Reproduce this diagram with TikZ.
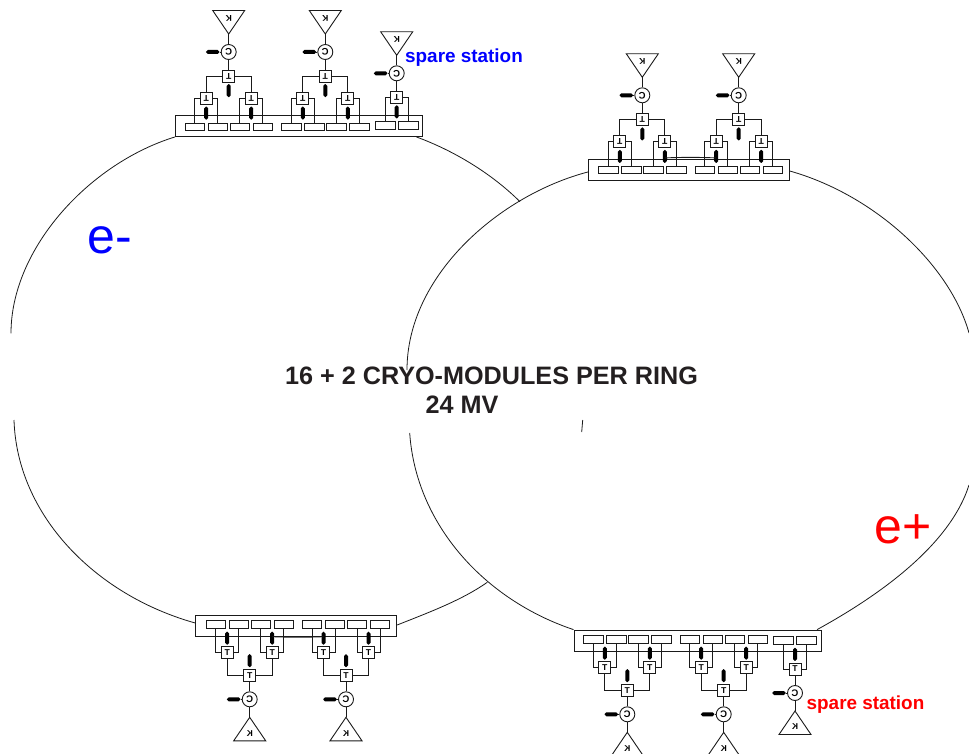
\documentclass[tikz,border=0pt]{standalone}
\usepackage{fontspec}
\setmainfont{Liberation Sans}
\usepackage{xcolor}
\usetikzlibrary{positioning,calc}
\definecolor{ringblk}{HTML}{1A1A1A}
\definecolor{txtblk}{HTML}{231F20}
\definecolor{eblue}{HTML}{0000FF}
\definecolor{ered}{HTML}{FF0000}
\tikzset{
  wire/.style   = {draw=ringblk, line width=0.9pt},
  ring/.style   = {draw=ringblk, line width=0.8pt},
  cmod/.style   = {rectangle, draw=ringblk, line width=0.9pt, fill=white, inner sep=0pt},
  cav/.style    = {rectangle, draw=ringblk, line width=0.9pt, fill=white, inner sep=0pt,
                   minimum width=19.5pt, minimum height=7.6pt},
  tee/.style    = {rectangle, draw=ringblk, line width=0.9pt, fill=white, inner sep=0pt,
                   minimum size=12pt, font=\bfseries\fontsize{8.5}{8.5}\selectfont},
  circu/.style  = {circle, draw=ringblk, line width=0.9pt, fill=white, inner sep=0pt,
                   minimum size=15pt, font=\bfseries\fontsize{9.5}{9.5}\selectfont},
  stubv/.style  = {rectangle, rounded corners=1.8pt, fill=black, inner sep=0pt,
                   minimum width=4pt, minimum height=13pt},
  stubh/.style  = {rectangle, rounded corners=1.8pt, fill=black, inner sep=0pt,
                   minimum width=13.5pt, minimum height=4pt},
  ktxt/.style   = {inner sep=0pt, font=\bfseries\fontsize{8.5}{8.5}\selectfont},
  lbl/.style    = {inner sep=0pt, text=txtblk, font=\bfseries\fontsize{25.2}{25.2}\selectfont},
  spr/.style    = {inner sep=0pt, font=\bfseries\fontsize{18.9}{18.9}\selectfont},
  big/.style    = {inner sep=0pt, font=\fontsize{50}{50}\selectfont},
  lettering/.style = {},
  ringtop/.style = {lettering/.style={rotate=180}},
  ringbot/.style = {yscale=-1, lettering/.style={xscale=-1}},
}
% klystron and circulator above the tee at the local origin
\newcommand{\feed}[1]{
  \node[circu,lettering] (#1c) at (0,-24) {C};
  \node[stubh] (#1l) at (-16,-24) {};
  \coordinate (#1kt) at (0,-42);
  \coordinate (#1ka) at (-16,-65.5);
  \coordinate (#1kb) at (16,-65.5);
  \node[ktxt,lettering] (#1k) at (0,-58) {K};
  \draw[wire] (#1ka) -- (#1kb) -- (#1kt) -- cycle;
  \draw[wire] (#1kt) -- (#1c);
  \draw[wire] (#1c) -- (#1);
  \draw[wire] (#1l) -- (#1c);
}
% tee feeding a pair of cavities
\newcommand{\arm}[3]{
  \node[tee,lettering] (#1) at (#2,#3) {T};
  \node[stubv] (#1l) at ($(#2,#3)+(0,14.6)$) {};
  \node[cav] (#1x) at ($(#2,#3)+(-11.5,28.3)$) {};
  \node[cav] (#1y) at ($(#2,#3)+(11.5,28.3)$) {};
  \draw[wire] (#1) -| (#1x);
  \draw[wire] (#1) -| (#1y);
}
\newcommand{\station}[1]{
  \node[tee,lettering] (#1) at (0,0) {T};
  \node[stubv] (#1l) at (0,14.6) {};
  \feed{#1}
  \arm{#1a}{-22.5}{22.5}
  \arm{#1b}{22.5}{22.5}
  \draw[wire] (#1) -| (#1a);
  \draw[wire] (#1) -| (#1b);
}
\newcommand{\sparest}[1]{
  \arm{#1}{0}{0}
  \feed{#1}
}
\begin{document}
\begin{tikzpicture}[x=1pt,y=-1pt]
  \useasboundingbox (0,0) rectangle (969,754);
  \clip (0,0) rectangle (969,754);
  % cryo-module boxes
  \node[cmod,minimum width=246.5pt,minimum height=21pt] (mna) at (298.7,126) {};
  \node[cmod,minimum width=201pt,minimum height=21pt] (mnb) at (296.2,626) {};
  \node[cmod,minimum width=201pt,minimum height=21pt] (mpa) at (688.8,169.5) {};
  \node[cmod,minimum width=247.7pt,minimum height=21.3pt] (mpb) at (697.8,640.7) {};
  % rings
  \coordinate (nw) at (11,333.3);
  \coordinate (sw) at (14,420);
  \coordinate (ne) at (520,201.7);
  \coordinate (se) at (487.3,582.3);
  \coordinate (pw) at (407,370);
  \coordinate (qw) at (409.7,433);
  \coordinate (pe) at (969,333);
  \coordinate (qe) at (969,485);
  \draw[ring] (mna.south west) .. controls (90,163) and (11,248) .. (nw);
  \draw[ring] (sw) .. controls (17,515) and (95,595) .. ($(mnb.west)+(0,-3)$);
  \draw[ring] ($(mna.south east)+(-6,0)$) .. controls (452,150) and (490,172) .. (ne);
  \draw[ring] ($(mnb.east)+(0,-1)$) .. controls (430,612) and (462,600) .. (se);
  \draw[ring] ($(mpa.west)+(0,2.5)$) .. controls (500,195) and (407,275) .. (pw);
  \draw[ring] (qw) .. controls (416,525) and (485,600) .. (mpb.north west);
  \draw[ring] ($(mpa.east)+(0,1.5)$) .. controls (875,195) and (950,265) .. (pe);
  \draw[ring] (qe) .. controls (950,545) and (880,595) .. ($(mpb.north east)+(-5,0)$);
  \coordinate (tka) at (582.7,420);
  \coordinate (tkb) at (581.7,432);
  \draw[ring] (tka) -- (tkb);
  % stations
  \begin{scope}[shift={(228.7,76)},ringtop] \station{na} \end{scope}
  \begin{scope}[shift={(325.3,76)},ringtop] \station{nb} \end{scope}
  \begin{scope}[shift={(396.7,97.3)},ringtop] \sparest{ns} \end{scope}
  \begin{scope}[shift={(642.3,119.3)},ringtop] \station{pa} \end{scope}
  \begin{scope}[shift={(738.7,119.3)},ringtop] \station{pb} \end{scope}
  \begin{scope}[shift={(249.7,675.3)},ringbot] \station{nc} \end{scope}
  \begin{scope}[shift={(346,675.3)},ringbot] \station{nd} \end{scope}
  \begin{scope}[shift={(627.3,690.3)},ringbot] \station{pc} \end{scope}
  \begin{scope}[shift={(723.7,690.3)},ringbot] \station{pd} \end{scope}
  \begin{scope}[shift={(795,669)},ringbot] \sparest{ps} \end{scope}
  % joining lines
  \draw[wire] ($(pabl)+(0,1.5)$) to[bend left=2] ($(pbal)+(0,1.5)$);
  \draw[wire] ($(ncbl)+(0,-1.5)$) to[bend right=2] ($(ndal)+(0,-1.5)$);
  % labels
  \node[lbl] (title) at (491.5,376) {16 + 2 CRYO-MODULES PER RING};
  \node[lbl] (mv) at (462,405) {24 MV};
  \node[big,text=eblue] (em) at (110,240) {e-};
  \node[big,text=ered] (ep) at (903,529) {e+};
  \node[spr,text=eblue] (sn) at (464,57.5) {spare station};
  \node[spr,text=ered] (sp) at (865.5,704.5) {spare station};
\end{tikzpicture}
\end{document}
